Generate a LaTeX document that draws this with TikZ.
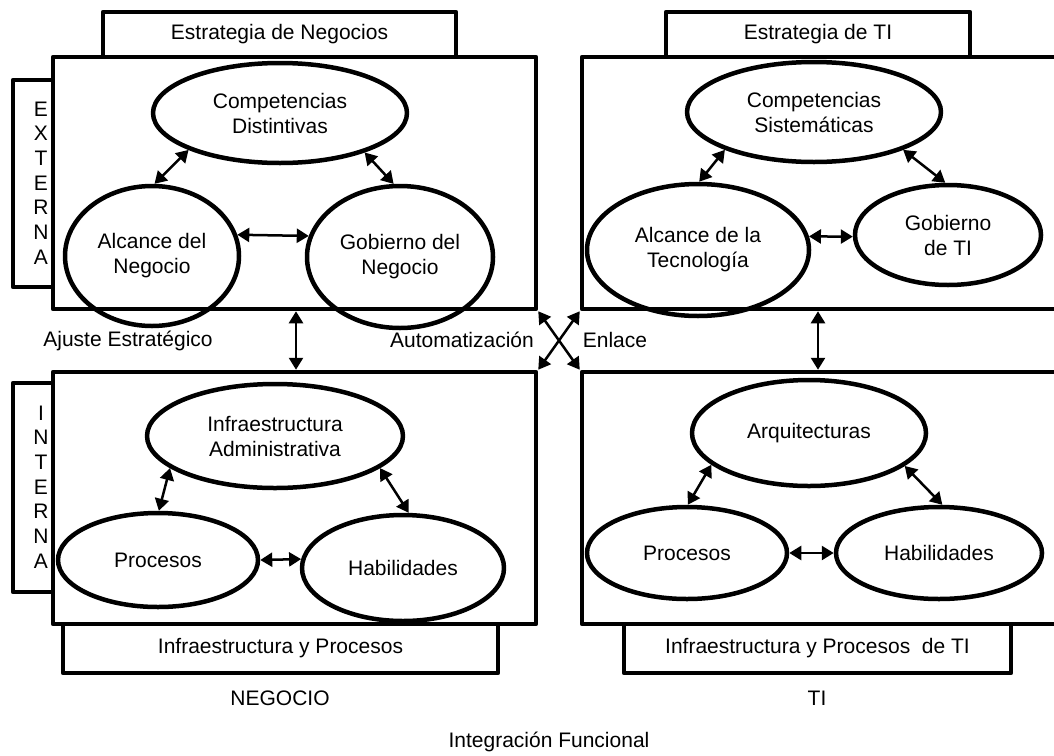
\documentclass[tikz,border=0pt]{standalone}
\usepackage{fontspec}
\setmainfont{Liberation Sans}
\usetikzlibrary{shapes.geometric,arrows.meta}
\begin{document}
\begin{tikzpicture}[x=1pt,y=-1pt,line cap=round,line join=round,
  font=\fontsize{21}{25}\selectfont,
  caja/.style={draw,line width=4.5pt,inner sep=0pt,fill=white},
  elipse/.style={draw,ellipse,line width=4.5pt,inner sep=0pt,align=center},
  flecha/.style={{Triangle[length=12pt,width=14pt]}-{Triangle[length=12pt,width=14pt]},line width=2.5pt}]
  \useasboundingbox (0,0) rectangle (1054,755);
  % cajas laterales
  \node[caja,minimum width=40pt,minimum height=207pt] (ext) at (33,183.5) {};
  \node[caja,minimum width=40pt,minimum height=209pt] (int) at (33,487.5) {};
  \node[align=center,font=\fontsize{21}{24.7}\selectfont] (lext) at (41,183) {E\\X\\T\\E\\R\\N\\A};
  \node[align=center,font=\fontsize{21}{24.7}\selectfont] (lint) at (41,487) {I\\N\\T\\E\\R\\N\\A};
  % cuadrantes
  \node[caja,minimum width=483pt,minimum height=252pt] (tl) at (294.5,183) {};
  \node[caja,minimum width=478pt,minimum height=252pt] (tr) at (821,183) {};
  \node[caja,minimum width=483pt,minimum height=252pt] (bl) at (294.5,498) {};
  \node[caja,minimum width=478pt,minimum height=252pt] (br) at (821,498) {};
  \node[caja,minimum width=353pt,minimum height=45pt] (en) at (279.5,34.5) {Estrategia de Negocios};
  \node[caja,minimum width=304pt,minimum height=45pt] (eti) at (818,34.5) {Estrategia de TI};
  \node[caja,minimum width=435pt,minimum height=49pt] (ip) at (280.5,648.5) {Infraestructura y Procesos};
  \node[caja,minimum width=387pt,minimum height=49pt] (ipti) at (817.5,648.5) {Infraestructura y Procesos\ \ de TI};
  % elipses
  \node[elipse,minimum width=254pt,minimum height=100pt] (cd) at (280,113) {Competencias\\Distintivas};
  \node[elipse,minimum width=174pt,minimum height=140pt] (an) at (152,256) {Alcance del\\Negocio};
  \node[elipse,minimum width=186pt,minimum height=142pt] (gn) at (400,257) {Gobierno del\\Negocio};
  \node[elipse,minimum width=254pt,minimum height=100pt] (cs) at (814,112) {Competencias\\Sistemáticas};
  \node[elipse,minimum width=222pt,minimum height=132pt] (alt) at (698,250) {Alcance de la\\Tecnología};
  \node[elipse,minimum width=186pt,minimum height=100pt] (gti) at (948,235) {Gobierno\\de TI};
  \node[elipse,minimum width=256pt,minimum height=104pt] (ia) at (275,436) {Infraestructura\\Administrativa};
  \node[elipse,minimum width=200pt,minimum height=94pt] (pn) at (158,560) {Procesos};
  \node[elipse,minimum width=202pt,minimum height=106pt] (hn) at (403,568) {Habilidades};
  \node[elipse,minimum width=234pt,minimum height=106pt] (aq) at (809,433) {Arquitecturas};
  \node[elipse,minimum width=200pt,minimum height=92pt] (pti) at (687,553) {Procesos};
  \node[elipse,minimum width=206pt,minimum height=92pt] (hti) at (939,553) {Habilidades};
  % relaciones
  \draw[flecha] (cd.202) -- (an.88);
  \draw[flecha] (cd.335) -- (gn.95);
  \draw[flecha] (an.14) -- (gn.167);
  \draw[flecha] (cs.203) -- (alt.89);
  \draw[flecha] (cs.337) -- (gti.93);
  \draw[flecha] (alt.7) -- (gti.181);
  \draw[flecha] (ia.197) -- (pn.89);
  \draw[flecha] (ia.343) -- (hn.84);
  \draw[flecha] (pn.0) -- (hn.175);
  \draw[flecha] (aq.198) -- (pti.89);
  \draw[flecha] (aq.341) -- (hti.86);
  \draw[flecha] (pti.0) -- (hti.180);
  \coordinate (v1) at (296,0);
  \coordinate (v2) at (818,0);
  \draw[flecha] (tl.south -| v1) -- (bl.north -| v1);
  \draw[flecha] (tr.south -| v2) -- (br.north -| v2);
  \draw[flecha] (tl.south east) -- (br.north west);
  \draw[flecha] (tr.south west) -- (bl.north east);
  % etiquetas
  \node (ae) at (128,341) {Ajuste Estratégico};
  \node (au) at (462,340) {Automatización};
  \node (el) at (615,340) {Enlace};
  \node (ng) at (280,698) {NEGOCIO};
  \node (ti) at (817,698) {TI};
  \node (ifn) at (549,742) {Integración Funcional};
\end{tikzpicture}
\end{document}
